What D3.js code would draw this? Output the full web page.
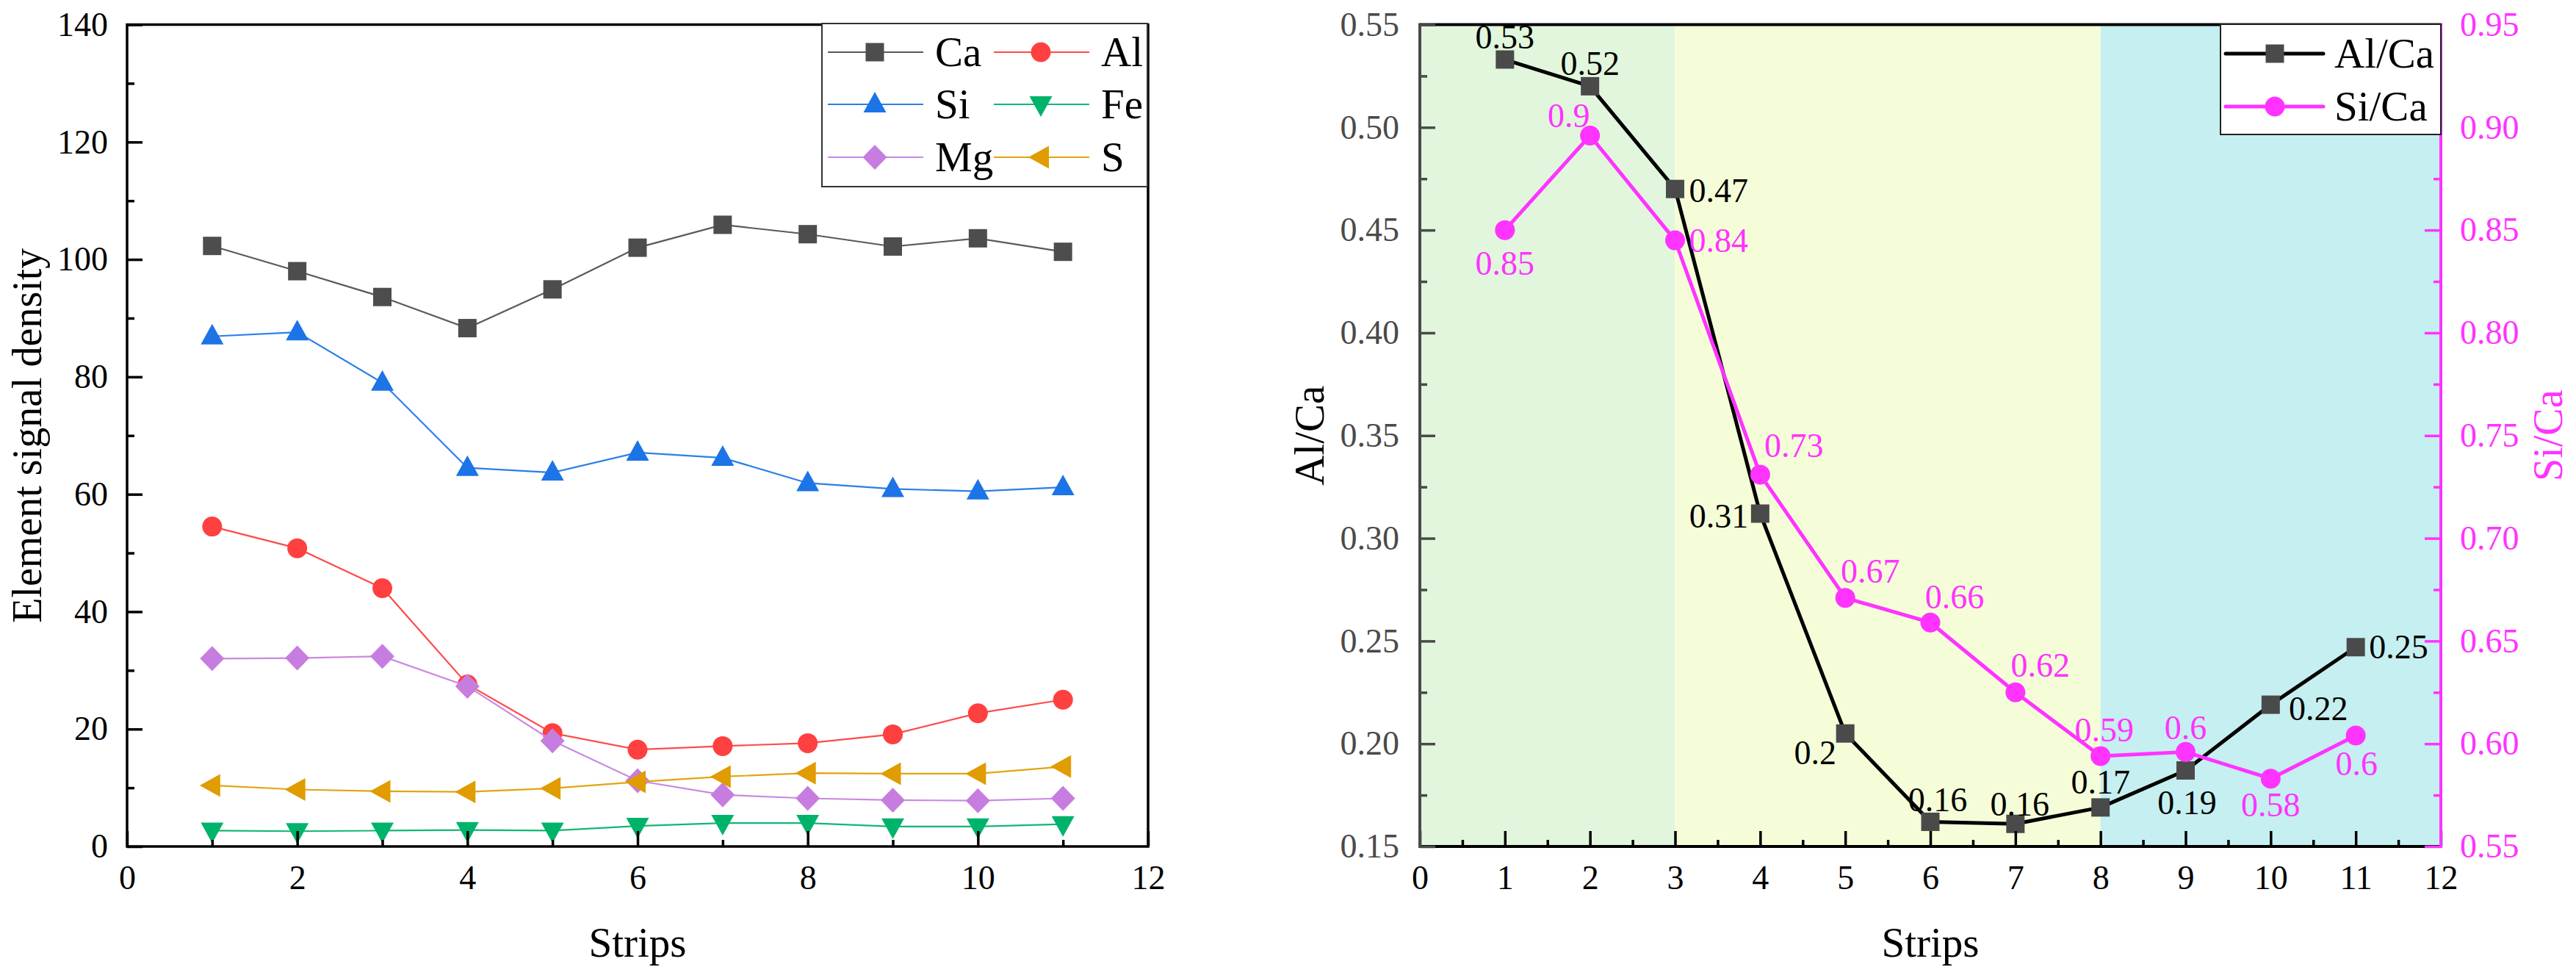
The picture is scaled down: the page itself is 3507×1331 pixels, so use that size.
<!DOCTYPE html>
<html><head><meta charset="utf-8">
<script src="https://cdn.jsdelivr.net/npm/d3@7"></script>
<style>
body{margin:0;background:#fff}
svg{display:block}
text{font-family:"Liberation Serif","Times New Roman",serif}
</style>
</head><body>
<svg id="chart" width="3507" height="1331"></svg>
<script>
// ---------------- DATA ----------------
const strips = [1,2,3,4,5,6,7,8,9,10,11];
const caVals = [102.3, 98.0, 93.6, 88.3, 94.9, 102.0, 105.9, 104.3, 102.2, 103.6, 101.3];
const alVals = [54.5, 50.8, 44.0, 27.6, 19.3, 16.5, 17.1, 17.6, 19.1, 22.7, 25.0];
const siVals = [86.9, 87.6, 79.0, 64.5, 63.7, 67.1, 66.2, 61.9, 60.9, 60.5, 61.2];
const feVals = [2.7, 2.6, 2.7, 2.8, 2.7, 3.5, 4.0, 4.0, 3.4, 3.4, 3.8];
const mgVals = [32.0, 32.1, 32.4, 27.3, 18.0, 11.2, 8.8, 8.2, 7.9, 7.8, 8.2];
const sVals  = [10.4, 9.7, 9.4, 9.3, 9.9, 11.0, 11.9, 12.5, 12.4, 12.4, 13.6];
const elementNames = ["Ca","Al","Si","Fe","Mg","S"];

const leftXTicks = [0,2,4,6,8,10,12];
const leftXMinor = [1,3,5,7,9,11];
const leftYTicks = [0,20,40,60,80,100,120,140];
const leftYMinor = [10,30,50,70,90,110,130];

const alCaVals = [0.533, 0.520, 0.470, 0.312, 0.205, 0.162, 0.161, 0.169, 0.187, 0.219, 0.247];
const siCaVals = [0.850, 0.896, 0.845, 0.731, 0.671, 0.659, 0.625, 0.594, 0.596, 0.583, 0.604];
const alCaLabels = ["0.53","0.52","0.47","0.31","0.2","0.16","0.16","0.17","0.19","0.22","0.25"];
const siCaLabels = ["0.85","0.9","0.84","0.73","0.67","0.66","0.62","0.59","0.6","0.58","0.6"];

const rightXTicks = [0,1,2,3,4,5,6,7,8,9,10,11,12];
const rightXMinor = [0.5,1.5,2.5,3.5,4.5,5.5,6.5,7.5,8.5,9.5,10.5,11.5];
const alCaTicks = [0.15,0.20,0.25,0.30,0.35,0.40,0.45,0.50,0.55];
const alCaMinor = [0.175,0.225,0.275,0.325,0.375,0.425,0.475,0.525];
const siCaTicks = [0.55,0.60,0.65,0.70,0.75,0.80,0.85,0.90,0.95];
const siCaMinor = [0.575,0.625,0.675,0.725,0.775,0.825,0.875,0.925];
const zoneStarts = [0,3,8];
const zoneEnds = [3,8,12];

// ---------------- STYLE ----------------
const FONT = '"Liberation Serif","Times New Roman",serif';
const svg = d3.select("#chart");
const colors = {Ca:"#4d4d4d", Al:"#ff4040", Si:"#1c74e6", Fe:"#00b36b", Mg:"#c77ddf", S:"#e09c00"};
const lineColors = {Ca:"#5a5a5a", Al:"#ff4a4a", Si:"#2a7fe8", Fe:"#10b874", Mg:"#c98ae0", S:"#e3a410"};
const shapes = {Ca:"square", Al:"circle", Si:"up", Fe:"down", Mg:"diamond", S:"left"};
const magenta = "#ff33ff";
const zoneColors = ["#e1f6dc","#f5fdd8","#c6eff1"];

function markerPath(type, x, y){
  const p = d3.path();
  switch(type){
    case "square": p.rect(x-12.5,y-12.5,25,25); break;
    case "circle": p.arc(x,y,13.5,0,2*Math.PI); break;
    case "up": p.moveTo(x,y-17); p.lineTo(x+15.5,y+11); p.lineTo(x-15.5,y+11); p.closePath(); break;
    case "down": p.moveTo(x,y+17); p.lineTo(x+15.5,y-11); p.lineTo(x-15.5,y-11); p.closePath(); break;
    case "diamond": p.moveTo(x,y-17); p.lineTo(x+16.5,y); p.lineTo(x,y+17); p.lineTo(x-16.5,y); p.closePath(); break;
    case "left": p.moveTo(x-17,y); p.lineTo(x+11,y-15.5); p.lineTo(x+11,y+15.5); p.closePath(); break;
  }
  return p.toString();
}

function styleAxis(g, color, size, width){
  g.attr("font-family", FONT).attr("font-size", size);
  g.select(".domain").remove();
  g.selectAll(".tick line").attr("stroke", color).attr("stroke-width", width);
  g.selectAll(".tick text").attr("fill", color);
}

// ================= LEFT CHART =================
const L = {x0:173, x1:1563, y0:33.5, y1:1152};
const xL = d3.scaleLinear().domain([0,12]).range([L.x0,L.x1]);
const yL = d3.scaleLinear().domain([0,140]).range([L.y1,L.y0]);
const gL = svg.append("g");

const seriesL = [
  {name:"Ca", vals:caVals},
  {name:"Al", vals:alVals},
  {name:"Si", vals:siVals},
  {name:"Fe", vals:feVals},
  {name:"Mg", vals:mgVals},
  {name:"S",  vals:sVals}
];
const lineL = d3.line().x(d=>xL(d[0])).y(d=>yL(d[1]));
seriesL.forEach(s=>{
  const pts = strips.map((st,i)=>[st,s.vals[i]]);
  gL.append("path").attr("d", lineL(pts)).attr("fill","none")
    .attr("stroke", lineColors[s.name]).attr("stroke-width", 2.2);
  gL.selectAll(null).data(pts).enter().append("path")
    .attr("d", d=>markerPath(shapes[s.name], xL(d[0]), yL(d[1])))
    .attr("fill", colors[s.name]);
});

// axes (ticks inward)
const axL_b = gL.append("g").attr("transform",`translate(0,${L.y1})`)
  .call(d3.axisBottom(xL).tickValues(leftXTicks).tickSizeInner(-21).tickSizeOuter(0).tickPadding(25).tickFormat(d3.format("d")));
styleAxis(axL_b,"#000",46,3.5);
const axL_bm = gL.append("g").attr("transform",`translate(0,${L.y1})`)
  .call(d3.axisBottom(xL).tickValues(leftXMinor).tickSizeInner(-9).tickSizeOuter(0).tickFormat(""));
styleAxis(axL_bm,"#000",46,3.5);
const axL_l = gL.append("g").attr("transform",`translate(${L.x0},0)`)
  .call(d3.axisLeft(yL).tickValues(leftYTicks).tickSizeInner(-21).tickSizeOuter(0).tickPadding(26).tickFormat(d3.format("d")));
styleAxis(axL_l,"#000",46,3.5);
const axL_lm = gL.append("g").attr("transform",`translate(${L.x0},0)`)
  .call(d3.axisLeft(yL).tickValues(leftYMinor).tickSizeInner(-10).tickSizeOuter(0).tickFormat(""));
styleAxis(axL_lm,"#000",46,3.5);

// frame
gL.append("path").attr("d",`M${L.x0},${L.y0}H${L.x1}V${L.y1}H${L.x0}Z`)
  .attr("fill","none").attr("stroke","#000").attr("stroke-width",3.5);

// axis titles
gL.append("text").attr("x",(L.x0+L.x1)/2).attr("y",1302).attr("text-anchor","middle")
  .attr("font-size",57).attr("font-family",FONT).text("Strips");
gL.append("text").attr("transform",`translate(56,${(L.y0+L.y1)/2}) rotate(-90)`)
  .attr("text-anchor","middle").attr("font-size",56).attr("font-family",FONT).text("Element signal density");

// legend
const legL = gL.append("g");
legL.append("rect").attr("x",1119).attr("y",32).attr("width",443).attr("height",222)
  .attr("fill","#fff").attr("stroke","#333").attr("stroke-width",2);
const legRows = [71,142,214];
const legCols = [{l0:1127,l1:1257,m:1191,t:1273},{l0:1353,l1:1483,m:1417,t:1499}];
elementNames.forEach((n,i)=>{
  const r = Math.floor(i/2), c = i%2, col = legCols[c], y = legRows[r];
  legL.append("line").attr("x1",col.l0).attr("x2",col.l1).attr("y1",y).attr("y2",y)
    .attr("stroke",lineColors[n]).attr("stroke-width",2.2);
  legL.append("path").attr("d",markerPath(shapes[n],col.m,y)).attr("fill",colors[n]);
  legL.append("text").attr("x",col.t).attr("y",y+19).attr("font-size",57).attr("font-family",FONT).text(n);
});

// ================= RIGHT CHART =================
const R = {x0:1933, x1:3323, y0:33.5, y1:1152};
const xR = d3.scaleLinear().domain([0,12]).range([R.x0,R.x1]);
const yA = d3.scaleLinear().domain([0.15,0.55]).range([R.y1,R.y0]);
const yS = d3.scaleLinear().domain([0.55,0.95]).range([R.y1,R.y0]);
const gR = svg.append("g");

// background zones
zoneStarts.forEach((z,i)=>{
  gR.append("rect").attr("x",xR(z)).attr("y",R.y0).attr("width",xR(zoneEnds[i])-xR(z))
    .attr("height",R.y1-R.y0).attr("fill",zoneColors[i]);
});

// Al/Ca series
const ptsA = strips.map((s,i)=>[s,alCaVals[i]]);
gR.append("path").attr("d",d3.line().x(d=>xR(d[0])).y(d=>yA(d[1]))(ptsA))
  .attr("fill","none").attr("stroke","#000").attr("stroke-width",5).attr("stroke-linejoin","round");
gR.selectAll(null).data(ptsA).enter().append("path")
  .attr("d",d=>markerPath("square",xR(d[0]),yA(d[1]))).attr("fill","#4a4a4a");

// Si/Ca series
const ptsS = strips.map((s,i)=>[s,siCaVals[i]]);
gR.append("path").attr("d",d3.line().x(d=>xR(d[0])).y(d=>yS(d[1]))(ptsS))
  .attr("fill","none").attr("stroke",magenta).attr("stroke-width",5).attr("stroke-linejoin","round");
gR.selectAll(null).data(ptsS).enter().append("circle")
  .attr("cx",d=>xR(d[0])).attr("cy",d=>yS(d[1])).attr("r",13.5).attr("fill",magenta);

// data labels: [dx, dy(center), anchor]
const alLabOff = [[0,-31,"middle"],[0,-31,"middle"],[19,2,"start"],[-16,3,"end"],[-41,26,"middle"],
  [10,-30,"middle"],[6,-27,"middle"],[0,-34,"middle"],[2,44,"middle"],[65,5,"middle"],[18,0,"start"]];
const siLabOff = [[0,45,"middle"],[-29,-27,"middle"],[19,0,"start"],[46,-39,"middle"],[34,-36,"middle"],
  [33,-35,"middle"],[34,-37,"middle"],[5,-35,"middle"],[0,-33,"middle"],[0,36,"middle"],[1,38,"middle"]];
alCaLabels.forEach((t,i)=>{
  const o = alLabOff[i];
  gR.append("text").attr("x",xR(strips[i])+o[0]).attr("y",yA(alCaVals[i])+o[1]+15.5)
    .attr("text-anchor",o[2]).attr("font-size",46).attr("font-family",FONT).attr("fill","#000").text(t);
});
siCaLabels.forEach((t,i)=>{
  const o = siLabOff[i];
  gR.append("text").attr("x",xR(strips[i])+o[0]).attr("y",yS(siCaVals[i])+o[1]+15.5)
    .attr("text-anchor",o[2]).attr("font-size",46).attr("font-family",FONT).attr("fill",magenta).text(t);
});

// bottom axis ticks
const axR_b = gR.append("g").attr("transform",`translate(0,${R.y1})`)
  .call(d3.axisBottom(xR).tickValues(rightXTicks).tickSizeInner(-21).tickSizeOuter(0).tickPadding(25).tickFormat(d3.format("d")));
styleAxis(axR_b,"#000",46,3.5);
const axR_bm = gR.append("g").attr("transform",`translate(0,${R.y1})`)
  .call(d3.axisBottom(xR).tickValues(rightXMinor).tickSizeInner(-9).tickSizeOuter(0).tickFormat(""));
styleAxis(axR_bm,"#000",46,3.5);

// frame lines
gR.append("line").attr("x1",R.x0).attr("x2",R.x1).attr("y1",R.y0).attr("y2",R.y0).attr("stroke","#000").attr("stroke-width",4);
gR.append("line").attr("x1",R.x0).attr("x2",R.x1).attr("y1",R.y1).attr("y2",R.y1).attr("stroke","#000").attr("stroke-width",4);
gR.append("line").attr("x1",R.x0).attr("x2",R.x0).attr("y1",R.y0-2).attr("y2",R.y1+2).attr("stroke","#4a4a4a").attr("stroke-width",4);
gR.append("line").attr("x1",R.x1).attr("x2",R.x1).attr("y1",R.y0-2).attr("y2",R.y1+2).attr("stroke",magenta).attr("stroke-width",4);

// left y axis (Al/Ca)
const axR_l = gR.append("g").attr("transform",`translate(${R.x0},0)`)
  .call(d3.axisLeft(yA).tickValues(alCaTicks).tickSizeInner(-21).tickSizeOuter(0).tickPadding(28).tickFormat(d3.format(".2f")));
styleAxis(axR_l,"#4a4a4a",46,3.5);
const axR_lm = gR.append("g").attr("transform",`translate(${R.x0},0)`)
  .call(d3.axisLeft(yA).tickValues(alCaMinor).tickSizeInner(-10).tickSizeOuter(0).tickFormat(""));
styleAxis(axR_lm,"#4a4a4a",46,3.5);
// right y axis (Si/Ca)
const axR_r = gR.append("g").attr("transform",`translate(${R.x1},0)`)
  .call(d3.axisRight(yS).tickValues(siCaTicks).tickSizeInner(-22).tickSizeOuter(0).tickPadding(26).tickFormat(d3.format(".2f")));
styleAxis(axR_r,magenta,46,3.5);
const axR_rm = gR.append("g").attr("transform",`translate(${R.x1},0)`)
  .call(d3.axisRight(yS).tickValues(siCaMinor).tickSizeInner(-10).tickSizeOuter(0).tickFormat(""));
styleAxis(axR_rm,magenta,46,3.5);

// titles
gR.append("text").attr("x",(R.x0+R.x1)/2).attr("y",1302).attr("text-anchor","middle")
  .attr("font-size",57).attr("font-family",FONT).text("Strips");
gR.append("text").attr("transform",`translate(1802,${(R.y0+R.y1)/2}) rotate(-90)`)
  .attr("text-anchor","middle").attr("font-size",57).attr("font-family",FONT).text("Al/Ca");
gR.append("text").attr("transform",`translate(3488,${(R.y0+R.y1)/2}) rotate(-90)`)
  .attr("text-anchor","middle").attr("font-size",56).attr("font-family",FONT).attr("fill",magenta).text("Si/Ca");

// legend
const legR = gR.append("g");
legR.append("rect").attr("x",3023).attr("y",33).attr("width",300).attr("height",150)
  .attr("fill","#fff").attr("stroke","#222").attr("stroke-width",2);
[{y:73,n:"Al/Ca",c:"#000",m:"square",mc:"#4a4a4a"},{y:145,n:"Si/Ca",c:magenta,m:"circle",mc:magenta}].forEach(e=>{
  legR.append("line").attr("x1",3030).attr("x2",3163).attr("y1",e.y).attr("y2",e.y)
    .attr("stroke",e.c).attr("stroke-width",5).attr("stroke-linecap","round");
  legR.append("path").attr("d",markerPath(e.m,3097,e.y)).attr("fill",e.mc);
  legR.append("text").attr("x",3178).attr("y",e.y+19).attr("font-size",57).attr("font-family",FONT).text(e.n);
});
</script>
</body></html>
